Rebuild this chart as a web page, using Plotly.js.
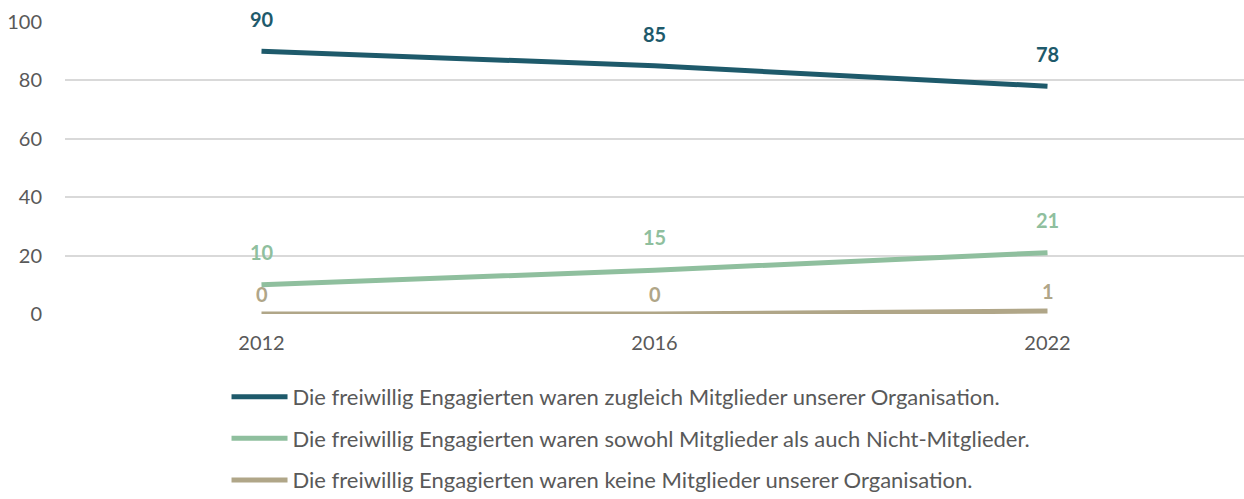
<!DOCTYPE html>
<html><head><meta charset="utf-8">
<script src="https://cdn.plot.ly/plotly-3.0.1.min.js"></script>
<style>html,body{margin:0;padding:0;background:#fff}#c{width:1244px;height:499px}</style>
</head><body><div id="c"></div>
<script>
var years = ["2012", "2016", "2022"];
var seriesNames = [
  "Die freiwillig Engagierten waren zugleich Mitglieder unserer Organisation.",
  "Die freiwillig Engagierten waren sowohl Mitglieder als auch Nicht-Mitglieder.",
  "Die freiwillig Engagierten waren keine Mitglieder unserer Organisation."
];
var valuesMembers = [90, 85, 78];
var valuesBoth = [10, 15, 21];
var valuesNone = [0, 0, 1];
var yTicks = [0, 20, 40, 60, 80, 100];
var colors = ["#1e5a6b", "#8fbf9e", "#b0a688"];
var labelShift = [32, 33, 20];

var allValues = [valuesMembers, valuesBoth, valuesNone];
var traces = allValues.map(function(v, i){
  return {x: years, y: v, name: seriesNames[i], legendgroup: "g" + i, type: "scatter", mode: "lines",
    line: {color: colors[i], width: 5, shape: "spline", smoothing: 0.6}, hoverinfo: "skip"};
});
var annotations = [];
allValues.forEach(function(v, i){
  v.forEach(function(val, j){
    annotations.push({x: j, y: val, xref: "x", yref: "y", text: "<b>" + String(val) + "</b>",
      showarrow: false, yshift: labelShift[i], font: {family: "Lato", size: 20, color: colors[i]}});
  });
});

var layout = {
  width: 1244, height: 499,
  margin: {l: 65, r: 0, t: 22, b: 185, autoexpand: false},
  paper_bgcolor: "#fff", plot_bgcolor: "#fff",
  font: {family: "Lato", size: 20, color: "#595959"},
  showlegend: true,
  legend: {orientation: "v", x: 0.137, xanchor: "left", y: -0.212, yanchor: "top",
    font: {size: 22, color: "#595959"}, tracegroupgap: 10, itemwidth: 56},
  xaxis: {type: "category", range: [-0.5, 2.5], showgrid: false, zeroline: false, showline: false,
    ticks: "", tickfont: {size: 20, color: "#595959"}, ticklabelstandoff: 15},
  yaxis: {range: [0, 100], tickvals: yTicks, showgrid: true, gridcolor: "#d9d9d9", gridwidth: 1.5,
    zeroline: false, showline: false, ticks: "", tickfont: {size: 20, color: "#595959"}, ticklabelstandoff: 22},
  annotations: annotations
};
Plotly.newPlot("c", traces, layout, {displayModeBar: false});
</script></body></html>
